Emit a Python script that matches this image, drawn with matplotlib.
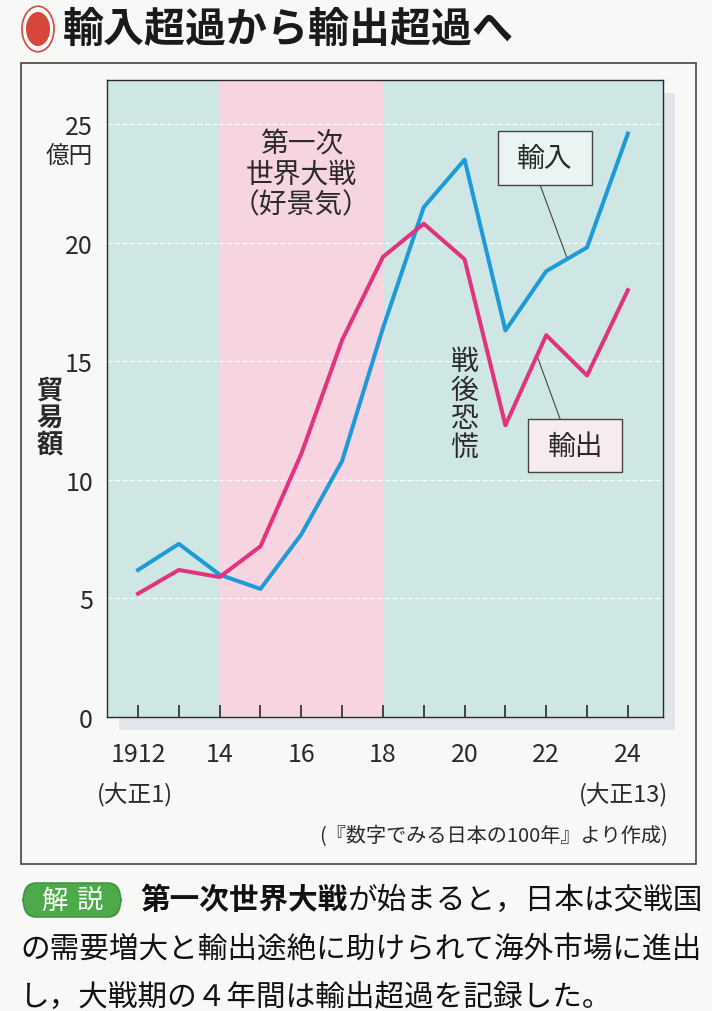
import matplotlib.pyplot as plt
from matplotlib.patches import Rectangle, Circle, FancyBboxPatch

# --- data ---
years = [1912, 1913, 1914, 1915, 1916, 1917, 1918, 1919, 1920, 1921, 1922, 1923, 1924]
imports = [6.2, 7.3, 6.0, 5.4, 7.7, 10.8, 16.4, 21.5, 23.5, 16.3, 18.8, 19.8, 24.6]
exports = [5.2, 6.2, 5.9, 7.2, 11.1, 15.9, 19.4, 20.8, 19.3, 12.3, 16.1, 14.4, 18.0]
xlabels = ['1912', '', '14', '', '16', '', '18', '', '20', '', '22', '', '24']
yticks = [0, 5, 10, 15, 20, 25]
war_years = (1914, 1918)

W, H = 712, 1012
JP = 'Noto Sans CJK JP'
NUM = ['Liberation Sans Narrow', JP]
BLUE = '#1f9ad8'
PINK = '#e1337f'
INK = '#2a2a2a'


def fx(x):
    return x / W


def fy(y):
    return 1 - y / H


fig = plt.figure(figsize=(W / 100, H / 100), dpi=100)
fig.patch.set_facecolor('#f8f8f6')

# outer frame + shadow behind the plot
fig.patches.append(Rectangle((fx(21), fy(865)), (696 - 21) / W, (865 - 64) / H,
                             transform=fig.transFigure, fill=False,
                             edgecolor='#444', lw=1.2, zorder=-2))
fig.patches.append(Rectangle((fx(119), fy(731)), (663 - 107) / W, (718 - 81) / H,
                             transform=fig.transFigure, facecolor='#e0e6ea',
                             edgecolor='none', zorder=-1))

ax = fig.add_axes([fx(107), fy(718), (663 - 107) / W, (718 - 81) / H])
ax.set_zorder(1)
ax.set_xlim(1911.24, 1924.86)
ax.set_ylim(0, 26.86)
ax.set_facecolor('#cfe7e4')
ax.axvspan(*war_years, color='#f6d5e1', zorder=0, lw=0)
for v in yticks[1:]:
    ax.axhline(v, color='white', lw=0.9, ls=(0, (4, 2)), alpha=0.85, zorder=1)

ax.plot(years, imports, color=BLUE, lw=2.9, zorder=3)
ax.plot(years, exports, color=PINK, lw=2.9, zorder=3)

ax.set_xticks(years)
ax.set_xticklabels(xlabels, family=NUM, fontsize=18, color=INK)
ax.set_yticks(yticks)
ax.set_yticklabels([str(v) for v in yticks], family=NUM, fontsize=18, color=INK)
ax.tick_params(axis='x', direction='in', length=9, width=1.2, color=INK, pad=17)
ax.tick_params(axis='y', length=0, pad=10)
for s in ax.spines.values():
    s.set_color(INK)
    s.set_linewidth(1.0)

# annotations inside the plot
ax.text(1916, 24.2, '第一次', family=JP, fontsize=20, ha='center', va='center', color=INK)
ax.text(1916, 22.9, '世界大戦', family=JP, fontsize=20, ha='center', va='center', color=INK)
ax.text(1916, 21.6, '（好景気）', family=JP, fontsize=20, ha='center', va='center', color=INK)

for i, ch in enumerate('戦後恐慌'):
    ax.text(1920.0, 15.0 - i * 1.2, ch, family=JP, fontsize=20, ha='center', va='center', color=INK)

ax.add_patch(Rectangle((1920.82, 22.43), 2.31, 2.28, facecolor='#eaf4f3',
                       edgecolor='#444', lw=1.0, zorder=4))
ax.text(1921.97, 23.57, '輸入', family=JP, fontsize=20, ha='center', va='center', color=INK, zorder=5)
ax.plot([1921.85, 1922.51], [22.43, 19.35], color='#444', lw=0.8, zorder=2)

ax.add_patch(Rectangle((1921.56, 10.33), 2.30, 2.23, facecolor='#f8ebef',
                       edgecolor='#444', lw=1.0, zorder=4))
ax.text(1922.71, 11.45, '輸出', family=JP, fontsize=20, ha='center', va='center', color=INK, zorder=5)
ax.plot([1922.34, 1921.78], [12.56, 15.2], color='#444', lw=0.8, zorder=2)

# axis captions
fig.text(fx(93), fy(157), '億円', family=JP, fontsize=17, ha='right', va='center', color=INK)
for i, ch in enumerate('貿易額'):
    fig.text(fx(50), fy(391 + i * 27), ch, family=JP, fontsize=19, weight='bold',
             ha='center', va='center', color=INK)
fig.text(fx(135), fy(795), '(大正1)', family=NUM, fontsize=17, ha='center', va='center', color=INK)
fig.text(fx(668), fy(795), '(大正13)', family=NUM, fontsize=17, ha='right', va='center', color=INK)
fig.text(fx(668), fy(837), '(『数字でみる日本の100年』より作成)', family=NUM, fontsize=14.5,
         ha='right', va='center', color=INK)

# title with red bullet
fig.patches.append(Circle((fx(38), fy(30)), 16 / W, transform=fig.transFigure,
                          facecolor='white', edgecolor='#d8453a', lw=1.2))
fig.patches.append(Circle((fx(38), fy(30)), 12 / W, transform=fig.transFigure,
                          facecolor='#d8453a', edgecolor='none'))
fig.text(fx(63), fy(30), '輸入超過から輸出超過へ', family=JP, fontsize=29.5, weight='bold',
         ha='left', va='center', color='#1a1a1a')

# explanation text below the chart
fig.patches.append(FancyBboxPatch((fx(26), fy(914)), 92 / W, 26 / H,
                                  boxstyle='round,pad=0.004,rounding_size=0.018',
                                  transform=fig.transFigure, facecolor='#4daa4a',
                                  edgecolor='#3d8f3b', lw=1))
fig.text(fx(54), fy(901), '解', family=JP, fontsize=19, color='white', ha='center', va='center')
fig.text(fx(90), fy(901), '説', family=JP, fontsize=19, color='white', ha='center', va='center')

cw = 29.6
fig.text(fx(140), fy(900), '第一次世界大戦', family=JP, fontsize=21.3, weight='bold',
         ha='left', va='center', color='#111')
fig.text(fx(140 + 7 * cw), fy(900), 'が始まると，日本は交戦国', family=JP, fontsize=21.3,
         ha='left', va='center', color='#111')
fig.text(fx(20), fy(949), 'の需要増大と輸出途絶に助けられて海外市場に進出', family=JP,
         fontsize=21.3, ha='left', va='center', color='#111')
fig.text(fx(20), fy(997), 'し，大戦期の４年間は輸出超過を記録した。', family=JP,
         fontsize=21.3, ha='left', va='center', color='#111')

fig.savefig('out.png', dpi=100, facecolor=fig.get_facecolor())
